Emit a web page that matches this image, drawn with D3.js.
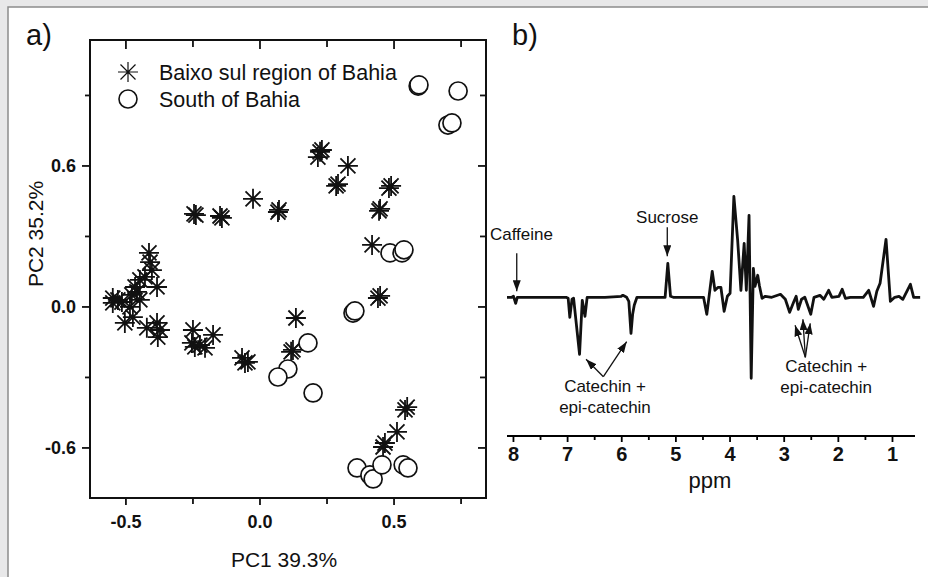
<!DOCTYPE html>
<head>
<meta charset="utf-8">
<style>
    body { margin: 0; background: #e8e8e9; }
    text { font-family: 'Liberation Sans', Arial, sans-serif; fill: #111; }
    .tick-label { font-weight: bold; font-size: 18px; }
    .frame { fill: none; stroke: #111; stroke-width: 2px; }
    .spectrum { fill: none; stroke: #111; stroke-width: 2.8px; stroke-linejoin: round; }
    .arrow { stroke: #111; stroke-width: 1.3px; }
</style>
<title>PCA scores and loadings</title>
</head>

<body>
    <script src="https://d3js.org/d3.v7.min.js"></script>
    <script>
        // a) PCA scores, [PC1, PC2]
        const baixoSul = [
            [0.224, 0.660], [0.216, 0.638], [0.231, 0.668], [0.328, 0.600],
            [0.284, 0.515], [0.291, 0.523], [0.481, 0.506], [0.489, 0.515],
            [0.448, 0.417], [0.444, 0.409], [0.418, 0.264], [-0.026, 0.460],
            [0.067, 0.404], [0.071, 0.413], [-0.246, 0.396], [-0.239, 0.391],
            [-0.142, 0.379], [-0.149, 0.387], [0.440, 0.038], [0.448, 0.047],
            [-0.414, 0.230], [-0.410, 0.191], [-0.403, 0.157], [-0.429, 0.128],
            [-0.384, 0.085], [-0.459, 0.064], [-0.478, 0.051], [-0.549, 0.038],
            [-0.549, 0.017], [-0.515, 0.021], [-0.485, 0.000], [-0.448, 0.030],
            [-0.448, 0.115], [-0.466, 0.085], [-0.530, 0.030],
            [-0.504, -0.068], [-0.474, -0.043], [-0.384, -0.068], [-0.373, -0.098],
            [-0.381, -0.128], [-0.422, -0.089], [-0.250, -0.098], [-0.175, -0.119],
            [-0.254, -0.153], [-0.243, -0.170], [-0.205, -0.174], [-0.224, -0.162],
            [-0.067, -0.217], [-0.045, -0.234], [-0.056, -0.238], [0.134, -0.047],
            [0.123, -0.183], [0.116, -0.191], [0.549, -0.426], [0.541, -0.438],
            [0.511, -0.532], [0.466, -0.579], [0.459, -0.596]
        ];
        const southBahia = [
            [0.590, 0.940], [0.593, 0.945], [0.739, 0.919], [0.701, 0.774],
            [0.716, 0.783], [0.485, 0.230], [0.530, 0.230], [0.537, 0.243],
            [0.347, -0.026], [0.354, -0.017], [0.179, -0.153], [0.104, -0.264],
            [0.067, -0.298], [0.198, -0.366], [0.362, -0.685], [0.410, -0.715],
            [0.422, -0.732], [0.455, -0.672], [0.534, -0.672], [0.552, -0.685]
        ];
        const pc1Ticks = [-0.5, 0.0, 0.5];
        const pc1Minor = [-0.25, 0.25, 0.75];
        const pc2Ticks = [-0.6, 0.0, 0.6];
        const pc2Minor = [-0.3, 0.3, 0.9];

        // b) loadings spectrum
        const ppm = [
            8.11, 8.02, 7.99, 7.95, 7.92, 7.50, 7.02, 6.98, 6.95, 6.91, 6.88, 6.77,
            6.72, 6.67, 6.63, 6.30, 6.00, 5.97, 5.90, 5.86, 5.82, 5.79, 5.76, 5.71,
            5.40, 5.19, 5.14, 5.09, 5.04, 4.60, 4.48, 4.42, 4.32, 4.27, 4.21, 4.16,
            4.10, 4.04, 3.99, 3.92, 3.85, 3.79, 3.73, 3.69, 3.64, 3.60, 3.56, 3.53,
            3.48, 3.45, 3.40, 3.34, 3.22, 3.06, 2.97, 2.89, 2.81, 2.77, 2.73, 2.67,
            2.61, 2.50, 2.44, 2.33, 2.26, 2.17, 2.11, 1.98, 1.92, 1.86, 1.77, 1.53,
            1.43, 1.34, 1.28, 1.22, 1.11, 1.03, 0.95, 0.87, 0.80, 0.66, 0.60, 0.48
        ];
        const loading = [
            0, 0, 0.005, -0.03, 0, 0, 0, -0.005, -0.10, -0.01, -0.005, -0.285,
            -0.015, -0.095, 0, 0, 0.005, 0.01, 0, -0.02, -0.18, -0.085, -0.04, 0,
            0, 0, 0.17, 0.005, 0, 0, 0, -0.085, 0.13, 0.035, 0.05, 0.05,
            -0.07, 0.005, 0.02, 0.505, 0.285, 0.035, 0.27, 0.035, 0.41, -0.405, 0.145, 0.055,
            0.11, 0.06, -0.005, 0.005, 0, 0.015, -0.01, -0.075, -0.02, 0.005, -0.06, -0.01,
            0, -0.085, 0, 0.01, -0.01, 0.035, 0, 0.005, 0.04, -0.005, 0, 0,
            0.035, -0.045, 0.03, 0.07, 0.29, -0.02, 0, 0.005, -0.01, 0.065, 0, 0
        ];
        const ppmTicks = [8, 7, 6, 5, 4, 3, 2, 1];
        const ppmMinor = [7.5, 6.5, 5.5, 4.5, 3.5, 2.5, 1.5];
        const labels = [
            { lines: ['Caffeine'], x: 8.425, y: 0.285, anchor: 'start' },
            { lines: ['Sucrose'], x: 5.15, y: 0.37, anchor: 'middle' },
            { lines: ['Catechin +', 'epi-catechin'], x: 6.30, y: -0.475, anchor: 'middle' },
            { lines: ['Catechin +', 'epi-catechin'], x: 2.215, y: -0.375, anchor: 'middle' }
        ];
        // [from ppm, from value, to ppm, to value]
        const arrows = [
            [7.93, 0.22, 7.93, 0.03],
            [5.15, 0.35, 5.15, 0.205],
            [6.33, -0.397, 6.65, -0.31],
            [6.33, -0.397, 5.90, -0.222],
            [2.60, -0.30, 2.79, -0.14],
            [2.60, -0.30, 2.645, -0.11],
            [2.60, -0.30, 2.51, -0.13]
        ];

        const svg = d3.select('body').append('svg')
            .attr('width', 928)
            .attr('height', 577);

        // white sheet with a thin grey edge
        svg.append('rect')
            .attr('x', 8).attr('y', 7).attr('width', 930).attr('height', 580)
            .attr('fill', '#fff').attr('stroke', '#8c8c8c').attr('stroke-width', 1.5);

        svg.append('defs').append('marker')
            .attr('id', 'head')
            .attr('markerUnits', 'userSpaceOnUse')
            .attr('markerWidth', 12).attr('markerHeight', 8)
            .attr('refX', 11).attr('refY', 4)
            .attr('orient', 'auto')
            .append('path')
            .attr('d', 'M0,0 L11,4 L0,8 Z')
            .attr('fill', '#111');

        // ---------- panel a ----------
        const x = d3.scaleLinear().domain([-0.634, 0.843]).range([90, 486]);
        const y = d3.scaleLinear().domain([-0.813, 1.136]).range([498, 40]);

        const a = svg.append('g');

        a.append('text').attr('x', 26).attr('y', 45)
            .attr('font-size', '29px').text('a)');

        // ticks on all four sides (out on bottom/left, in on top/right)
        const tick = (vals, len, fn) => vals.forEach(v => a.append('line')
            .attr('stroke', '#111').attr('stroke-width', 1.8).call(fn, v, len));
        tick(pc1Ticks, 7, (s, v, l) => s.attr('x1', x(v)).attr('x2', x(v)).attr('y1', 498).attr('y2', 498 + l));
        tick(pc1Minor, 6, (s, v, l) => s.attr('x1', x(v)).attr('x2', x(v)).attr('y1', 498).attr('y2', 498 + l));
        tick(pc1Ticks, 9, (s, v, l) => s.attr('x1', x(v)).attr('x2', x(v)).attr('y1', 40).attr('y2', 40 + l));
        tick(pc1Minor, 7, (s, v, l) => s.attr('x1', x(v)).attr('x2', x(v)).attr('y1', 40).attr('y2', 40 + l));
        tick(pc2Ticks, 8, (s, v, l) => s.attr('y1', y(v)).attr('y2', y(v)).attr('x1', 90).attr('x2', 90 - l));
        tick(pc2Minor, 5, (s, v, l) => s.attr('y1', y(v)).attr('y2', y(v)).attr('x1', 90).attr('x2', 90 - l));
        tick(pc2Ticks, 8, (s, v, l) => s.attr('y1', y(v)).attr('y2', y(v)).attr('x1', 486).attr('x2', 486 - l));
        tick(pc2Minor, 6, (s, v, l) => s.attr('y1', y(v)).attr('y2', y(v)).attr('x1', 486).attr('x2', 486 - l));

        a.selectAll('.xl').data(pc1Ticks).enter().append('text')
            .attr('class', 'tick-label')
            .attr('x', d => x(d)).attr('y', 528)
            .attr('text-anchor', 'middle')
            .text(d => d.toFixed(1));
        a.selectAll('.yl').data(pc2Ticks).enter().append('text')
            .attr('class', 'tick-label')
            .attr('x', 76).attr('y', d => y(d) + 6)
            .attr('text-anchor', 'end')
            .text(d => d.toFixed(1));

        a.append('text')
            .attr('x', 284).attr('y', 567)
            .attr('text-anchor', 'middle')
            .attr('font-size', '21px')
            .text('PC1 39.3%');
        a.append('text')
            .attr('transform', 'translate(43,234) rotate(-90)')
            .attr('text-anchor', 'middle')
            .attr('font-size', '21px')
            .text('PC2 35.2%');

        const star = 'M-10,0L10,0M0,-10L0,10M-7.5,-7.5L7.5,7.5M-7.5,7.5L7.5,-7.5';

        a.selectAll('.star').data(baixoSul).enter().append('path')
            .attr('transform', d => `translate(${x(d[0])},${y(d[1])})`)
            .attr('d', star)
            .attr('stroke', '#111').attr('stroke-width', 1.8);

        a.selectAll('.circ').data(southBahia).enter().append('circle')
            .attr('cx', d => x(d[0])).attr('cy', d => y(d[1]))
            .attr('r', 9)
            .attr('fill', '#fff').attr('stroke', '#111').attr('stroke-width', 1.7);

        // legend
        a.append('path').attr('transform', 'translate(128,72)').attr('d', star)
            .attr('stroke', '#111').attr('stroke-width', 1.2);
        a.append('circle').attr('cx', 128).attr('cy', 99).attr('r', 9)
            .attr('fill', '#fff').attr('stroke', '#111').attr('stroke-width', 1.6);
        a.append('text').attr('x', 159).attr('y', 80).attr('font-size', '21.5px')
            .text('Baixo sul region of Bahia');
        a.append('text').attr('x', 159).attr('y', 107).attr('font-size', '21.5px')
            .text('South of Bahia');

        a.append('rect').attr('class', 'frame')
            .attr('x', 90).attr('y', 40).attr('width', 396).attr('height', 458);

        // ---------- panel b ----------
        const xb = d3.scaleLinear().domain([8.11, 0.575]).range([507, 915]);
        const yb = d3.scaleLinear().domain([-0.5, 0.6]).range([397.3, 177.3]);

        const b = svg.append('g');

        b.append('text').attr('x', 512).attr('y', 45)
            .attr('font-size', '29px').text('b)');

        b.append('path')
            .datum(d3.range(ppm.length))
            .attr('class', 'spectrum')
            .attr('d', d3.line().x(i => xb(ppm[i])).y(i => yb(loading[i])));

        b.append('g')
            .attr('transform', 'translate(0,436)')
            .call(d3.axisBottom(xb).tickValues(ppmTicks).tickSize(6).tickPadding(5).tickFormat(d3.format('d')))
            .call(g => g.select('.domain').attr('stroke-width', 2).attr('d', 'M507,0H915'))
            .call(g => g.selectAll('.tick line').attr('stroke-width', 1.8))
            .call(g => g.selectAll('.tick text').attr('font-size', '20px').attr('font-weight', 'bold')
                .attr('font-family', "'Liberation Sans', Arial, sans-serif").attr('fill', '#111'));
        b.append('g')
            .attr('transform', 'translate(0,436)')
            .call(d3.axisBottom(xb).tickValues(ppmMinor).tickSize(4).tickFormat(''))
            .call(g => g.select('.domain').remove())
            .call(g => g.selectAll('.tick line').attr('stroke-width', 1.8));

        b.append('text')
            .attr('x', 710).attr('y', 488)
            .attr('text-anchor', 'middle')
            .attr('font-size', '22px')
            .text('ppm');

        labels.forEach(l => {
            l.lines.forEach((t, k) => b.append('text')
                .attr('x', xb(l.x)).attr('y', yb(l.y) + k * 21)
                .attr('text-anchor', l.anchor)
                .attr('font-size', '17px')
                .text(t));
        });

        b.selectAll('.arrow').data(arrows).enter().append('line')
            .attr('class', 'arrow')
            .attr('x1', d => xb(d[0])).attr('y1', d => yb(d[1]))
            .attr('x2', d => xb(d[2])).attr('y2', d => yb(d[3]))
            .attr('marker-end', 'url(#head)');
    </script>
</body>
